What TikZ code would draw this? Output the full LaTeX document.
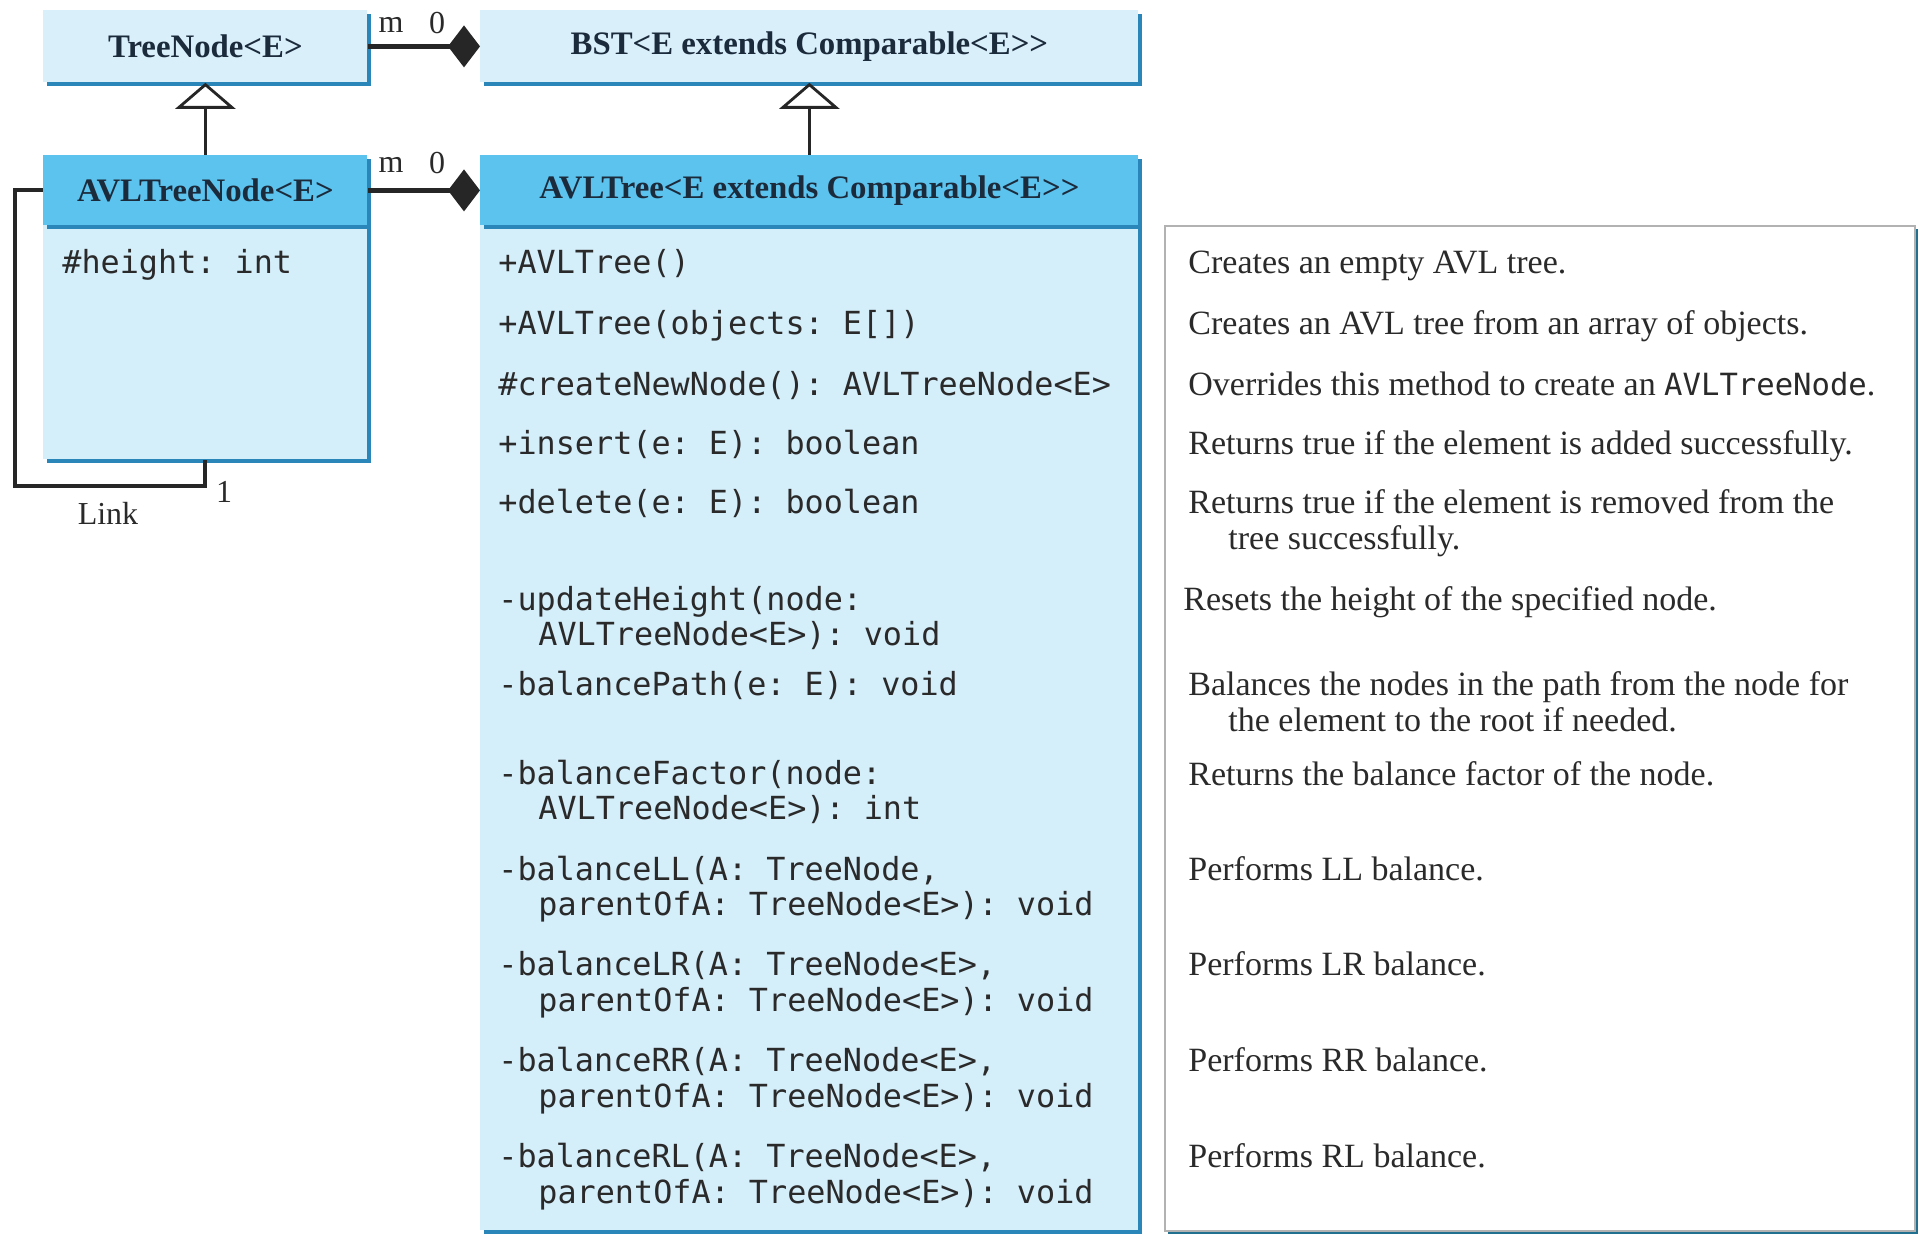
\documentclass[tikz,border=0pt]{standalone}
\usepackage{fontspec}
\setmainfont{Liberation Serif}
\setmonofont{DejaVu Sans Mono}
\usetikzlibrary{arrows.meta,shadows}
\definecolor{hdr}{HTML}{5CC3EE}
\definecolor{bodyc}{HTML}{D4EEFA}
\definecolor{lightc}{HTML}{D9F0FB}
\definecolor{shad}{HTML}{2A86B8}
\definecolor{dshad}{HTML}{22708F}
\definecolor{txt}{HTML}{2A2A2A}
\definecolor{navy}{HTML}{1C2B3C}
\newcommand\hdrf{\fontsize{16.4}{19}\selectfont\bfseries}
\newcommand\monof{\fontsize{15.9}{19}\selectfont\ttfamily}
\newcommand\descf{\fontsize{17}{20}\selectfont}
\begin{document}
\begin{tikzpicture}[x=0.5pt,y=-0.5pt,
  cls/.style={rectangle, inner sep=0pt, anchor=north west, text=navy, font=\hdrf,
    drop shadow={shadow xshift=1.8pt, shadow yshift=-1.8pt, fill=shad, opacity=1}},
  descbox/.style={rectangle, inner sep=0pt, anchor=north west, fill=white, draw=gray!60, line width=0.8pt,
    drop shadow={shadow xshift=1.8pt, shadow yshift=-1.8pt, fill=dshad, opacity=1}},
  mono/.style={anchor=base west, inner sep=0pt, font=\monof, text=txt},
  desc/.style={anchor=base west, inner sep=0pt, font=\descf, text=txt},
  lab/.style={inner sep=0pt, font=\fontsize{16}{19}\selectfont, text=txt},
  gen/.style={line width=1.4pt, draw=black!85, -{Triangle[length=13pt, width=30pt, fill=white, line width=1.4pt]}},
  comp/.style={line width=2.4pt, draw=black!85, -{Diamond[length=16pt, width=21pt]}},
  linkline/.style={line width=2pt, draw=black!85}
]
\useasboundingbox (0,0) rectangle (1929,1241);

% top classes
\node[cls, fill=lightc, minimum width=162pt, minimum height=36pt] (tn) at (43,10) {TreeNode<E>};
\node[cls, fill=lightc, minimum width=329pt, minimum height=36pt] (bst) at (480,10) {BST<E extends Comparable<E>{}>};

% AVLTreeNode
\node[cls, fill=bodyc, minimum width=162pt, minimum height=117pt] (atnb) at (43,225) {};
\node[cls, fill=hdr, minimum width=162pt, minimum height=35pt] (atn) at (43,155) {AVLTreeNode<E>};
\node[mono] (hgt) at (62,274) {\#height: int};

% AVLTree
\node[cls, fill=bodyc, minimum width=329pt, minimum height=502.5pt] (avb) at (480,225) {};
\node[cls, fill=hdr, minimum width=329pt, minimum height=35pt] (av) at (480,155) {AVLTree<E extends Comparable<E>{}>};

% description box
\node[descbox, minimum width=375pt, minimum height=502.5pt] (dbox) at (1164,225) {};

% methods
\node[mono] (m1) at (498,274) {+AVLTree()};
\node[mono] (m2) at (498,335) {+AVLTree(objects: E[])};
\node[mono] (m3) at (498,395) {\#createNewNode(): AVLTreeNode<E>};
\node[mono] (m4) at (498,454) {+insert(e: E): boolean};
\node[mono] (m5) at (498,513) {+delete(e: E): boolean};
\node[mono] (m6a) at (498,610) {-updateHeight(node:};
\node[mono] (m6b) at (538,645) {AVLTreeNode<E>): void};
\node[mono] (m7) at (498,695) {-balancePath(e: E): void};
\node[mono] (m8a) at (498,784) {-balanceFactor(node:};
\node[mono] (m8b) at (538,819) {AVLTreeNode<E>): int};
\node[mono] (m9a) at (498,880) {-balanceLL(A: TreeNode,};
\node[mono] (m9b) at (538,915) {parentOfA: TreeNode<E>): void};
\node[mono] (m10a) at (498,975) {-balanceLR(A: TreeNode<E>,};
\node[mono] (m10b) at (538,1011) {parentOfA: TreeNode<E>): void};
\node[mono] (m11a) at (498,1071) {-balanceRR(A: TreeNode<E>,};
\node[mono] (m11b) at (538,1107) {parentOfA: TreeNode<E>): void};
\node[mono] (m12a) at (498,1167) {-balanceRL(A: TreeNode<E>,};
\node[mono] (m12b) at (538,1203) {parentOfA: TreeNode<E>): void};

% descriptions
\node[desc] (d1) at (1188,274) {Creates an empty AVL tree.};
\node[desc] (d2) at (1188,335) {Creates an AVL tree from an array of objects.};
\node[desc] (d3) at (1188,395) {Overrides this method to create an {\fontsize{15.3}{19}\selectfont\ttfamily AVLTreeNode}.};
\node[desc] (d4) at (1188,454) {Returns true if the element is added successfully.};
\node[desc] (d5a) at (1188,513) {Returns true if the element is removed from the};
\node[desc] (d5b) at (1228,549) {tree successfully.};
\node[desc] (d6) at (1183,610) {Resets the height of the specified node.};
\node[desc] (d7a) at (1188,695) {Balances the nodes in the path from the node for};
\node[desc] (d7b) at (1228,731) {the element to the root if needed.};
\node[desc] (d8) at (1188,785) {Returns the balance factor of the node.};
\node[desc] (d9) at (1188,880) {Performs LL balance.};
\node[desc] (d10) at (1188,975) {Performs LR balance.};
\node[desc] (d11) at (1188,1071) {Performs RR balance.};
\node[desc] (d12) at (1188,1167) {Performs RL balance.};

% generalizations
\draw[gen] (atn.north) -- (tn.south);
\draw[gen] (av.north) -- (bst.south);

% compositions
\draw[comp] (tn.east) -- (bst.west);
\draw[comp] (atn.east) -- (av.west);
\node[lab] (m1l) at (391,25) {m};
\node[lab] (z1l) at (437,23) {0};
\node[lab] (m2l) at (391,165) {m};
\node[lab] (z2l) at (437,163) {0};

% self link
\coordinate (lc) at (15,486);
\draw[linkline] (atn.west) -| (lc) -| (atnb.south);
\node[lab] (linkl) at (108,513) {Link};
\node[lab] (onel) at (224,492) {1};
\end{tikzpicture}
\end{document}
